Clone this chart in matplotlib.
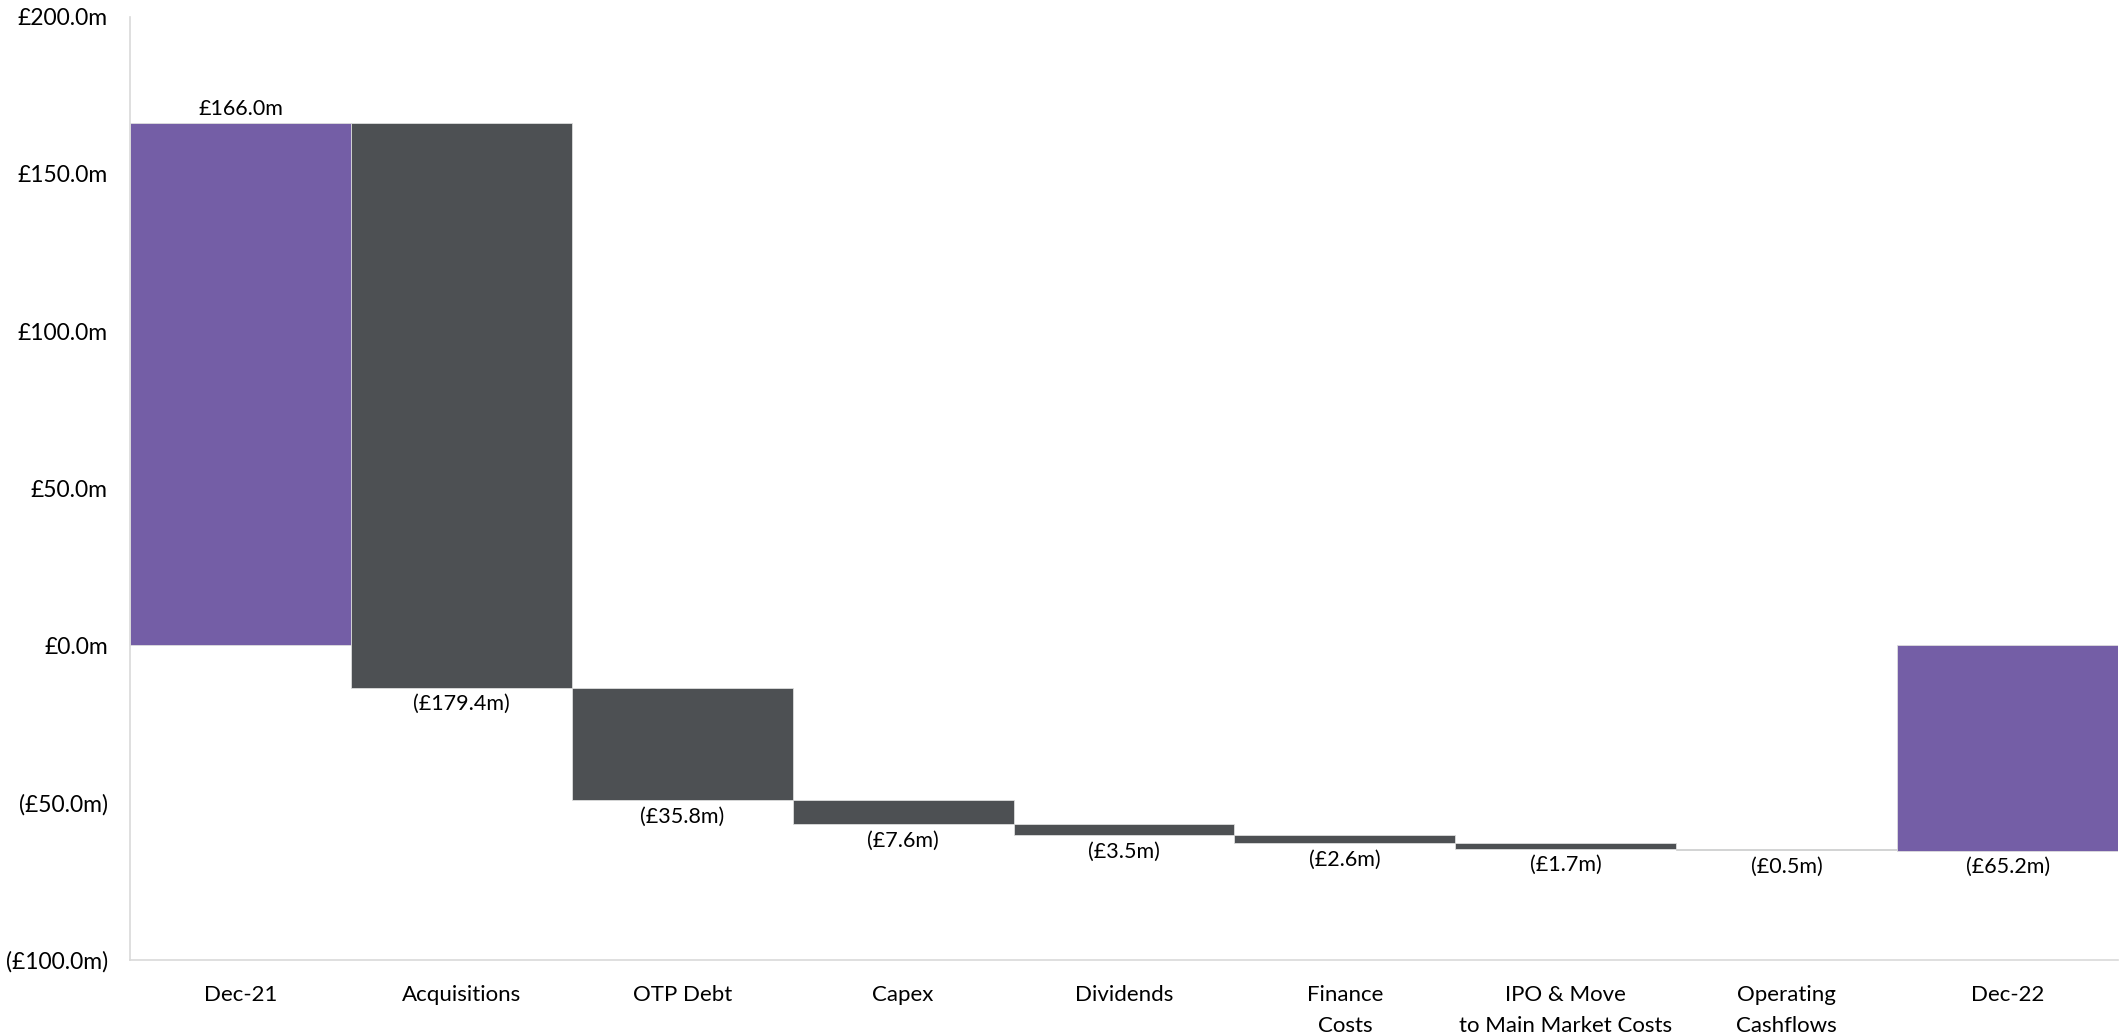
import matplotlib
matplotlib.use('Agg')
import matplotlib.pyplot as plt

categories = ["Dec-21", "Acquisitions", "OTP Debt", "Capex", "Dividends",
              "Finance\nCosts", "IPO & Move\nto Main Market Costs",
              "Operating\nCashflows", "Dec-22"]
opening = 166.0
changes = [-179.4, -35.8, -7.6, -3.5, -2.6, -1.7, -0.5]
closing = -65.2
yticks = [-100, -50, 0, 50, 100, 150, 200]

purple = '#745ea6'
grey = '#4d5053'

plt.rcParams['font.family'] = ['Lato', 'DejaVu Sans']

fig = plt.figure(figsize=(21.21, 10.35), dpi=100)
ax = fig.add_axes([0.0613, 0.0725, 0.9373, 0.9115])

# totals
ax.bar(0, opening, width=1.0, color=purple, edgecolor='#dddddd', linewidth=0.6)
ax.bar(len(categories) - 1, closing, width=1.0, color=purple, edgecolor='#dddddd', linewidth=0.6)
ax.text(0, opening + 1.5, "£%.1fm" % opening, ha='center', va='bottom', fontsize=15.5)
ax.text(len(categories) - 1, closing - 2, "(£%.1fm)" % abs(closing), ha='center', va='top', fontsize=15.5)

# movements
level = opening
for i, c in enumerate(changes):
    x = i + 1
    ax.bar(x, c, bottom=level, width=1.0, color=grey, edgecolor='#dddddd', linewidth=0.6)
    level += c
    ax.text(x, level - 2, "(£%.1fm)" % abs(c), ha='center', va='top', fontsize=15.5)

ax.set_xlim(-0.5, len(categories) - 0.5)
ax.set_ylim(-100, 200)
ax.set_yticks(yticks)
ax.set_yticklabels(["(£%.1fm)" % abs(v) if v < 0 else "£%.1fm" % v for v in yticks], fontsize=16.5)
ax.set_xticks(range(len(categories)))
ax.set_xticklabels(categories, fontsize=16, va='top', linespacing=1.7)
ax.tick_params(length=0)
ax.tick_params(axis='x', pad=18)
ax.tick_params(axis='y', pad=16)

for s in ['top', 'right']:
    ax.spines[s].set_visible(False)
ax.spines['left'].set_color('#d9d9d9')
ax.spines['bottom'].set_color('#d9d9d9')
ax.spines['left'].set_linewidth(1.2)
ax.spines['bottom'].set_linewidth(1.2)

plt.savefig("out.png", dpi=100)
